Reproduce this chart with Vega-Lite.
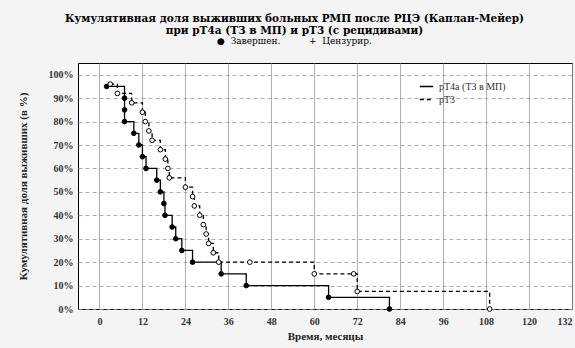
{
  "$schema": "https://vega.github.io/schema/vega-lite/v6.json",
  "width": 494,
  "height": 246,
  "autosize": {"type": "none"},
  "padding": {"left": 78, "top": 63, "right": 3, "bottom": 39},
  "background": "#f4f4f4",
  "config": {
    "view": {"fill": "white", "stroke": "black", "strokeWidth": 1},
    "font": "Liberation Serif"
  },
  "title": {
    "text": ["Кумулятивная доля выживших больных РМП после РЦЭ (Каплан-Мейер)", "при pT4a (ТЗ в МП) и pT3 (с рецидивами)"],
    "subtitle": "●\u00a0\u00a0Завершен.\u00a0\u00a0\u00a0\u00a0\u00a0\u00a0\u00a0\u00a0\u00a0\u00a0+\u00a0\u00a0Цензурир.",
    "font": "DejaVu Serif",
    "fontSize": 10.5,
    "fontWeight": "bold",
    "lineHeight": 12,
    "subtitleFont": "DejaVu Serif",
    "subtitleFontSize": 9,
    "subtitleColor": "black",
    "subtitlePadding": 1,
    "color": "black",
    "anchor": "middle",
    "frame": "bounds",
    "offset": 17
  },
  "data": {
    "values": [
      {"series": "pT4a (ТЗ в МП)", "time": 2, "surv": 95, "kind": "event"},
      {"series": "pT4a (ТЗ в МП)", "time": 7, "surv": 90, "kind": "event"},
      {"series": "pT4a (ТЗ в МП)", "time": 7, "surv": 85, "kind": "event"},
      {"series": "pT4a (ТЗ в МП)", "time": 7, "surv": 80, "kind": "event"},
      {"series": "pT4a (ТЗ в МП)", "time": 9.6, "surv": 75, "kind": "event"},
      {"series": "pT4a (ТЗ в МП)", "time": 11, "surv": 70, "kind": "event"},
      {"series": "pT4a (ТЗ в МП)", "time": 12, "surv": 65, "kind": "event"},
      {"series": "pT4a (ТЗ в МП)", "time": 13, "surv": 60, "kind": "event"},
      {"series": "pT4a (ТЗ в МП)", "time": 16, "surv": 55, "kind": "event"},
      {"series": "pT4a (ТЗ в МП)", "time": 17, "surv": 50, "kind": "event"},
      {"series": "pT4a (ТЗ в МП)", "time": 18, "surv": 45, "kind": "event"},
      {"series": "pT4a (ТЗ в МП)", "time": 18.3, "surv": 40, "kind": "event"},
      {"series": "pT4a (ТЗ в МП)", "time": 20.3, "surv": 35, "kind": "event"},
      {"series": "pT4a (ТЗ в МП)", "time": 21.3, "surv": 30, "kind": "event"},
      {"series": "pT4a (ТЗ в МП)", "time": 23, "surv": 25, "kind": "event"},
      {"series": "pT4a (ТЗ в МП)", "time": 26, "surv": 20, "kind": "event"},
      {"series": "pT4a (ТЗ в МП)", "time": 34, "surv": 15, "kind": "event"},
      {"series": "pT4a (ТЗ в МП)", "time": 41, "surv": 10, "kind": "event"},
      {"series": "pT4a (ТЗ в МП)", "time": 64, "surv": 5, "kind": "event"},
      {"series": "pT4a (ТЗ в МП)", "time": 81, "surv": 0, "kind": "event"},
      {"series": "pT3", "time": 3, "surv": 96, "kind": "event"},
      {"series": "pT3", "time": 5, "surv": 92, "kind": "event"},
      {"series": "pT3", "time": 9, "surv": 88, "kind": "event"},
      {"series": "pT3", "time": 12, "surv": 84, "kind": "event"},
      {"series": "pT3", "time": 12.8, "surv": 80, "kind": "event"},
      {"series": "pT3", "time": 13.8, "surv": 76, "kind": "event"},
      {"series": "pT3", "time": 14.7, "surv": 72, "kind": "event"},
      {"series": "pT3", "time": 17, "surv": 68, "kind": "event"},
      {"series": "pT3", "time": 18.4, "surv": 64, "kind": "event"},
      {"series": "pT3", "time": 19.1, "surv": 60, "kind": "event"},
      {"series": "pT3", "time": 19.5, "surv": 56, "kind": "event"},
      {"series": "pT3", "time": 24, "surv": 52, "kind": "event"},
      {"series": "pT3", "time": 26, "surv": 48, "kind": "event"},
      {"series": "pT3", "time": 26.5, "surv": 44, "kind": "event"},
      {"series": "pT3", "time": 28, "surv": 40, "kind": "event"},
      {"series": "pT3", "time": 29, "surv": 36, "kind": "event"},
      {"series": "pT3", "time": 29.8, "surv": 32, "kind": "event"},
      {"series": "pT3", "time": 30.5, "surv": 28, "kind": "event"},
      {"series": "pT3", "time": 31.8, "surv": 24, "kind": "event"},
      {"series": "pT3", "time": 33.3, "surv": 20, "kind": "event"},
      {"series": "pT3", "time": 42, "surv": 20, "kind": "censored"},
      {"series": "pT3", "time": 60, "surv": 15, "kind": "event"},
      {"series": "pT3", "time": 71, "surv": 15, "kind": "censored"},
      {"series": "pT3", "time": 72, "surv": 7.5, "kind": "event"},
      {"series": "pT3", "time": 109, "surv": 0, "kind": "event"}
    ]
  },
  "encoding": {
    "x": {
      "field": "time",
      "type": "quantitative",
      "scale": {"domain": [-6, 132], "nice": false, "zero": false},
      "axis": {
        "title": "Время, месяцы",
        "values": [0, 12, 24, 36, 48, 60, 72, 84, 96, 108, 120, 132],
        "grid": true,
        "gridColor": "#9a9a9a",
        "gridWidth": 0.8,
        "domain": false,
        "ticks": false,
        "labelPadding": 7,
        "labelFlush": true,
        "labelFont": "Liberation Serif",
        "labelFontSize": 10,
        "labelFontWeight": "bold",
        "labelColor": "#333",
        "titleFont": "Liberation Serif",
        "titleFontSize": 11,
        "titleFontWeight": "bold",
        "titleColor": "#222",
        "titlePadding": 4
      }
    },
    "y": {
      "field": "surv",
      "type": "quantitative",
      "scale": {"domain": [0, 105], "nice": false},
      "axis": {
        "title": "Кумулятивная доля выживших (в %)",
        "values": [0, 10, 20, 30, 40, 50, 60, 70, 80, 90, 100],
        "labelExpr": "datum.value + '%'",
        "grid": true,
        "gridColor": "#9a9a9a",
        "gridWidth": 0.8,
        "gridDash": [4, 3],
        "domain": false,
        "ticks": false,
        "labelPadding": 5,
        "labelFont": "Liberation Serif",
        "labelFontSize": 10,
        "labelFontWeight": "bold",
        "labelColor": "#333",
        "titleFont": "Liberation Serif",
        "titleFontSize": 11,
        "titleFontWeight": "bold",
        "titleColor": "#222",
        "titlePadding": 20
      }
    }
  },
  "layer": [
    {
      "mark": {"type": "line", "interpolate": "step-after", "color": "black", "strokeWidth": 1.3},
      "encoding": {
        "strokeDash": {
          "field": "series",
          "type": "nominal",
          "scale": {"domain": ["pT4a (ТЗ в МП)", "pT3"], "range": [[1, 0], [4, 3]]},
          "legend": {
            "title": null,
            "orient": "none",
            "legendX": 341,
            "legendY": 16,
            "symbolType": "stroke",
            "symbolSize": 180,
            "symbolStrokeColor": "black",
            "symbolStrokeWidth": 1.5,
            "labelFont": "Liberation Serif",
            "labelFontSize": 10,
            "labelColor": "#333",
            "rowPadding": -3,
            "labelOffset": 5
          }
        }
      }
    },
    {
      "mark": {"type": "point", "shape": "circle", "filled": true, "size": 22, "stroke": "black", "strokeWidth": 1, "opacity": 1},
      "encoding": {
        "fill": {
          "field": "series",
          "type": "nominal",
          "scale": {"domain": ["pT4a (ТЗ в МП)", "pT3"], "range": ["black", "white"]},
          "legend": null
        }
      }
    }
  ]
}
